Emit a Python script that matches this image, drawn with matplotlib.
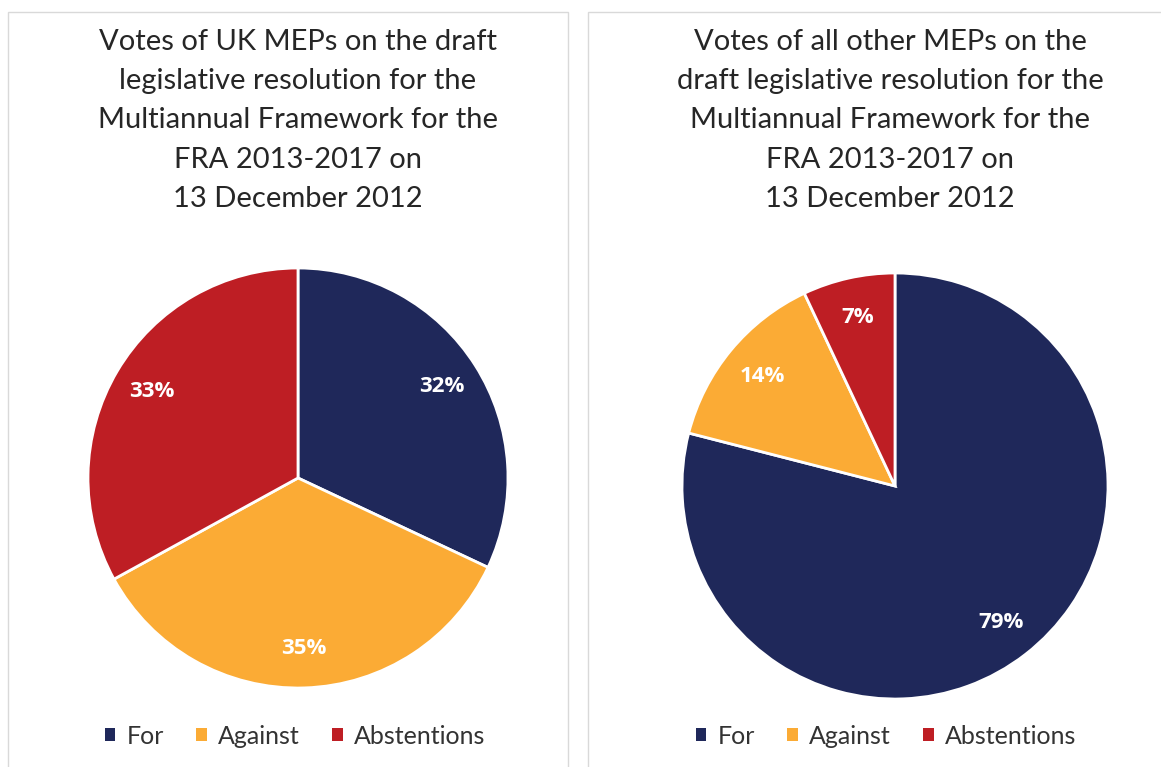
import matplotlib.pyplot as plt
from matplotlib.patches import Rectangle, Patch

plt.rcParams['font.family'] = ['Lato', 'DejaVu Sans']

categories = ['For', 'Against', 'Abstentions']
colors = ['#1f285a', '#fbab35', '#be1e24']
uk_votes = [32, 35, 33]
other_votes = [79, 14, 7]
titles = ['Votes of UK MEPs on the draft\nlegislative resolution for the\nMultiannual Framework for the\nFRA 2013-2017 on\n13 December 2012',
          'Votes of all other MEPs on the\ndraft legislative resolution for the\nMultiannual Framework for the\nFRA 2013-2017 on\n13 December 2012']

W, H = 1161, 767
fig = plt.figure(figsize=(W / 100, H / 100), dpi=100)

# panel frames (pixels: left, top, right)
panels = [(8, 12, 568), (588, 12, 1175)]
for (l, t, r) in panels:
    fig.add_artist(Rectangle((l / W, -0.01), (r - l) / W, (H - t) / H + 0.01,
                             transform=fig.transFigure, fill=False,
                             edgecolor='#d9d9d9', linewidth=1))

pies = [(298, 478, 210, uk_votes), (895, 486, 213, other_votes)]
title_x = [298, 890]
legend_x = [295, 886]

for i, (cx, cy, rad, vals) in enumerate(pies):
    ax = fig.add_axes([(cx - rad) / W, (H - cy - rad) / H, 2 * rad / W, 2 * rad / H])
    wedges, texts, autotexts = ax.pie(vals, colors=colors, startangle=90, counterclock=False,
                                      autopct='%d%%', pctdistance=0.81,
                                      wedgeprops=dict(edgecolor='white', linewidth=2))
    for t in autotexts:
        t.set_color('white')
        t.set_fontfamily(['Open Sans', 'DejaVu Sans'])
        t.set_fontweight('bold')
        t.set_fontsize(16)
    ax.set_xlim(-1, 1)
    ax.set_ylim(-1, 1)
    ax.set_aspect('equal')

    fig.text(title_x[i] / W, 1 - 29 / H, titles[i], ha='center', va='top',
             fontsize=21, color='#262626', linespacing=1.63)

    handles = [Patch(facecolor=c, edgecolor='none', label=lab) for c, lab in zip(colors, categories)]
    fig.legend(handles=handles, loc='center', bbox_to_anchor=(legend_x[i] / W, 1 - 736 / H),
               ncol=3, frameon=False, fontsize=18, handlelength=0.42, handleheight=0.42,
               handletextpad=0.45, columnspacing=1.3, labelcolor='#333333')

fig.savefig('out.png', dpi=100, facecolor='white')
